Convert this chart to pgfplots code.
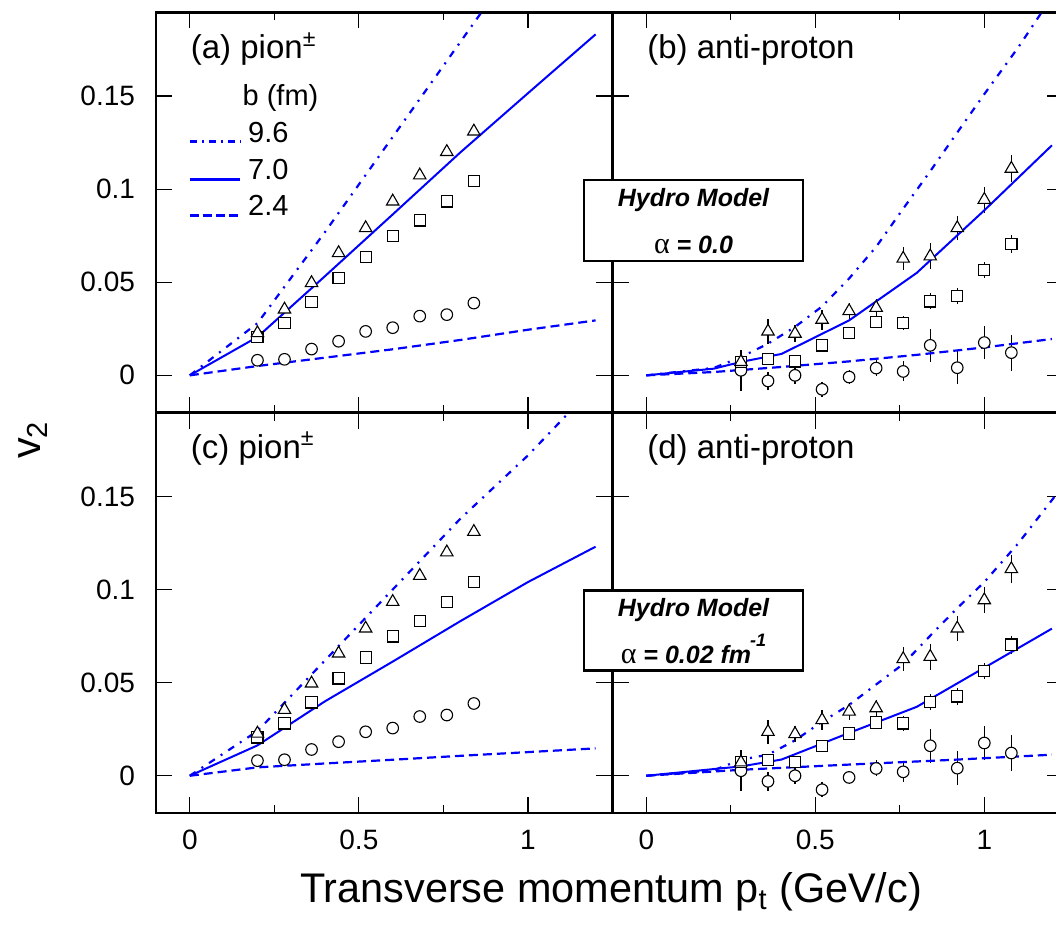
\documentclass[border=0pt]{standalone}
\usepackage{fontspec}
\setmainfont{Liberation Sans}
\newfontfamily\seriffont{Liberation Serif}
\usepackage{pgfplots}
\usepackage{pgfplotstable}
\pgfplotsset{compat=1.18}

% pion data (panels a, c)
\pgfplotstableread{
x tri sq circ
0.20 0.0227 0.0206 0.0081
0.28 0.0354 0.0281 0.0086
0.36 0.0496 0.0394 0.0141
0.44 0.0657 0.0523 0.0183
0.52 0.0791 0.0635 0.0236
0.60 0.0934 0.0748 0.0256
0.68 0.1074 0.0832 0.0318
0.76 0.1200 0.0934 0.0326
0.84 0.1310 0.1042 0.0388
}\piondata

% anti-proton data (panels b, d)
\pgfplotstableread{
x tri etri sq esq circ ecirc
0.28 0.0072 0.0050 0.0072 0.0030 0.0027 0.0110
0.36 0.0236 0.0065 0.0086 0.0030 -0.0030 0.0050
0.44 0.0224 0.0045 0.0075 0.0030 0.0000 0.0045
0.52 0.0299 0.0054 0.0161 0.0030 -0.0075 0.0040
0.60 0.0345 0.0045 0.0227 0.0030 -0.0009 0.0036
0.68 0.0363 0.0045 0.0286 0.0030 0.0039 0.0043
0.76 0.0627 0.0063 0.0281 0.0040 0.0021 0.0054
0.84 0.0639 0.0069 0.0397 0.0043 0.0161 0.0090
0.92 0.0791 0.0065 0.0426 0.0045 0.0041 0.0090
1.00 0.0943 0.0070 0.0564 0.0042 0.0176 0.0090
1.08 0.1110 0.0073 0.0704 0.0049 0.0122 0.0096
}\pbardata

\pgfplotsset{
  panel/.style={
    scale only axis, width=228.25pt, height=200.2pt,
    xmin=-0.1, xmax=1.25, ymin=-0.02, ymax=0.195,
    xtick={0,0.5,1}, minor xtick={0.25,0.75}, ytick={0,0.05,0.1,0.15},
    xticklabels={0,0.5,1}, yticklabels={0,0.05,0.1,0.15},
    scaled ticks=false,
    tick align=inside, major tick length=8pt, minor tick length=4pt,
    axis line style={line width=1.4pt},
    tick style={black, line width=0.6pt},
    tick label style={font=\fontsize{14}{16}\selectfont},
    yticklabel style={xshift=-7pt},
    xticklabel style={yshift=-5pt},
  },
  tri/.style={only marks, black, mark=triangle*, mark size=3.6pt,
    mark options={fill=white, draw=black, line width=0.55pt}},
  sq/.style={only marks, black, mark=square*, mark size=2.8pt,
    mark options={fill=white, draw=black, line width=0.55pt}},
  circ/.style={only marks, black, mark=*, mark size=2.9pt,
    mark options={fill=white, draw=black, line width=0.55pt}},
  ebar/.style={error bars/.cd, y dir=both, y explicit, error mark=none,
    error bar style={black, line width=0.6pt}},
  solidc/.style={blue, line width=1pt, no marks},
  dashc/.style={blue, line width=1.1pt, no marks, dash pattern=on 4.5pt off 2.5pt},
  dotdashc/.style={blue, line width=1.1pt, no marks, dash pattern=on 3.5pt off 3.5pt on 1pt off 3.5pt},
}
\newcommand{\panelfont}{\fontsize{16.5}{19}\selectfont}
\newcommand{\legfont}{\fontsize{14.5}{17}\selectfont}
\newcommand{\boxfont}{\fontsize{12.5}{15}\selectfont}

\begin{document}
\begin{tikzpicture}
\path[use as bounding box, clip] (0,0) rectangle (528pt,463.5pt);

% ---------------- (a) ----------------
\begin{axis}[panel, at={(78pt,257.2pt)}, anchor=south west, xticklabels={}]
\addplot[circ] table[x=x,y=circ] {\piondata};
\addplot[sq] table[x=x,y=sq] {\piondata};
\addplot[tri] table[x=x,y=tri] {\piondata};
\addplot[dotdashc] coordinates {(0,0) (0.2,0.028) (0.4,0.077) (0.6,0.128) (0.8,0.179) (0.9,0.2045)};
\addplot[solidc] coordinates {(0,0) (0.2,0.0206) (0.4,0.0533) (0.6,0.0864) (0.8,0.1197) (1.0,0.1515) (1.2,0.1831)};
\addplot[dashc] coordinates {(0,0) (0.2,0.005) (0.4,0.0095) (0.6,0.014) (0.8,0.019) (1.0,0.0245) (1.2,0.0295)};
\node[anchor=base west, inner sep=0pt, font=\panelfont] at (axis cs:0.002,0.170) {(a) pion\textsuperscript{±}};
\node[anchor=base west, inner sep=0pt, font=\legfont] at (axis cs:0.155,0.145) {b (fm)};
\draw[blue, line width=1.5pt, dash pattern=on 3.5pt off 2.5pt on 1pt off 2.5pt] (axis cs:0,0.1253) -- (axis cs:0.148,0.1253);
\draw[blue, line width=1.5pt] (axis cs:0,0.1053) -- (axis cs:0.148,0.1053);
\draw[blue, line width=1.5pt, dash pattern=on 4.5pt off 2pt] (axis cs:0,0.0856) -- (axis cs:0.148,0.0856);
\node[anchor=base west, inner sep=0pt, font=\legfont] at (axis cs:0.1716,0.1248) {9.6};
\node[anchor=base west, inner sep=0pt, font=\legfont] at (axis cs:0.1716,0.1053) {7.0};
\node[anchor=base west, inner sep=0pt, font=\legfont] at (axis cs:0.1716,0.0858) {2.4};
\end{axis}

% ---------------- (b) ----------------
\begin{axis}[panel, at={(306.25pt,257.2pt)}, anchor=south west, width=225.45pt, xmax=1.234,
  xticklabels={}, yticklabels={}]
\addplot[circ, ebar] table[x=x,y=circ,y error=ecirc] {\pbardata};
\addplot[sq, ebar] table[x=x,y=sq,y error=esq] {\pbardata};
\addplot[tri, ebar] table[x=x,y=tri,y error=etri] {\pbardata};
\addplot[dotdashc] coordinates {(0,0) (0.2,0.004) (0.28,0.0098) (0.36,0.017) (0.44,0.026) (0.52,0.037) (0.6,0.052) (0.68,0.069) (0.76,0.0895) (0.84,0.1096) (0.92,0.1304) (1.0,0.151) (1.1,0.176) (1.17,0.195) (1.2,0.203)};
\addplot[solidc] coordinates {(0,0) (0.2,0.0036) (0.28,0.0072) (0.4,0.0115) (0.6,0.0295) (0.8,0.055) (1.0,0.0886) (1.2,0.1235)};
\addplot[dashc] coordinates {(0,0) (0.2,0.0018) (0.4,0.0045) (0.6,0.0075) (0.8,0.011) (1.0,0.015) (1.2,0.0195)};
\node[anchor=base west, inner sep=0pt, font=\panelfont] at (axis cs:0.002,0.170) {(b) anti-proton};
\end{axis}

% ---------------- (c) ----------------
\begin{axis}[panel, at={(78pt,57pt)}, anchor=south west]
\addplot[circ] table[x=x,y=circ] {\piondata};
\addplot[sq] table[x=x,y=sq] {\piondata};
\addplot[tri] table[x=x,y=tri] {\piondata};
\addplot[dotdashc] coordinates {(0,0) (0.2,0.024) (0.4,0.062) (0.6,0.1) (0.8,0.138) (1.0,0.172) (1.2,0.21)};
\addplot[solidc] coordinates {(0,0) (0.2,0.0163) (0.4,0.040) (0.6,0.0613) (0.8,0.083) (1.0,0.104) (1.2,0.123)};
\addplot[dashc] coordinates {(0,0) (0.2,0.0045) (0.4,0.0066) (0.6,0.0086) (0.8,0.0107) (1.0,0.0127) (1.2,0.0147)};
\node[anchor=base west, inner sep=0pt, font=\panelfont] at (axis cs:0.002,0.1705) {(c) pion\textsuperscript{±}};
\end{axis}

% ---------------- (d) ----------------
\begin{axis}[panel, at={(306.25pt,57pt)}, anchor=south west, width=225.45pt, xmax=1.234,
  yticklabels={}]
\addplot[circ, ebar] table[x=x,y=circ,y error=ecirc] {\pbardata};
\addplot[sq, ebar] table[x=x,y=sq,y error=esq] {\pbardata};
\addplot[tri, ebar] table[x=x,y=tri,y error=etri] {\pbardata};
\addplot[dotdashc] coordinates {(0,0) (0.2,0.003) (0.28,0.0086) (0.36,0.0113) (0.44,0.019) (0.52,0.029) (0.6,0.038) (0.68,0.049) (0.76,0.06) (0.84,0.0752) (0.92,0.09) (1.0,0.104) (1.1,0.1247) (1.2,0.148) (1.25,0.16)};
\addplot[solidc] coordinates {(0,0) (0.2,0.0036) (0.28,0.005) (0.4,0.0087) (0.6,0.023) (0.8,0.037) (1.0,0.058) (1.2,0.079)};
\addplot[dashc] coordinates {(0,0) (0.28,0.0032) (0.6,0.006) (0.9,0.0085) (1.2,0.0113)};
\node[anchor=base west, inner sep=0pt, font=\panelfont] at (axis cs:0.002,0.1705) {(d) anti-proton};
\end{axis}

% ---------------- model boxes ----------------
\node[draw=black, line width=1.2pt, fill=white, minimum width=109.5pt, minimum height=40.5pt, inner sep=0pt] at (346.75pt,353.35pt) {};
\node[anchor=base, inner sep=0pt, font=\boxfont\bfseries\itshape] at (346.75pt,360.05pt) {Hydro Model};
\node[anchor=base, inner sep=0pt, font=\boxfont] at (346.75pt,336.7pt) {{\seriffont\fontsize{15}{15}\selectfont α} \textbf{\textit{= 0.0}}};

\node[draw=black, line width=1.2pt, fill=white, minimum width=109.5pt, minimum height=40pt, inner sep=0pt] at (346.75pt,148.15pt) {};
\node[anchor=base, inner sep=0pt, font=\boxfont\bfseries\itshape] at (346.75pt,155pt) {Hydro Model};
\node[anchor=base, inner sep=0pt, font=\boxfont] at (346.75pt,131.85pt) {{\seriffont\fontsize{15}{15}\selectfont α} \textbf{\textit{= 0.02 fm}}\hspace{-0.5pt}\raisebox{8.3pt}{\fontsize{9}{9}\selectfont\bfseries\itshape -1}};

% ---------------- axis titles ----------------
\node[rotate=90, font=\fontsize{20.7}{24}\selectfont] at (16.5pt,243.5pt) {v\textsubscript{2}};
\node[anchor=base, font=\fontsize{20.7}{24}\selectfont] at (305.5pt,12pt) {Transverse momentum p\textsubscript{t} (GeV/c)};
\end{tikzpicture}
\end{document}
